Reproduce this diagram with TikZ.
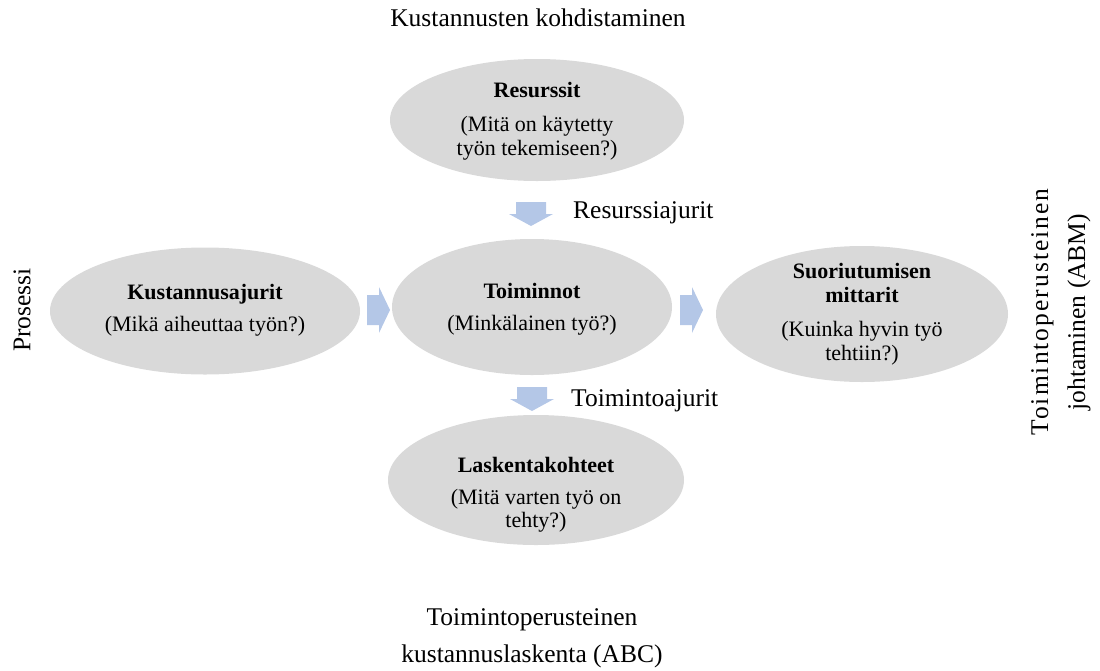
\documentclass[tikz,border=0pt]{standalone}
\usepackage{fontspec}
\setmainfont{Liberation Serif}
\usetikzlibrary{shapes.geometric}
\definecolor{ellgray}{HTML}{D9D9D9}
\definecolor{arrowblue}{HTML}{B4C7E7}
\tikzset{
  ell/.style={ellipse, fill=ellgray, draw=none, inner sep=0pt},
  inner/.style={align=center, font=\fontsize{22}{23.5}\selectfont, inner sep=0pt},
  outer/.style={align=center, font=\fontsize{25.5}{37}\selectfont, inner sep=0pt},
  dnarrow/.pic={\fill[arrowblue] (-15,-12) -- (15,-12) -- (15,0) -- (22,0) -- (0,12) -- (-22,0) -- (-15,0) -- cycle;},
  rtarrow/.pic={\fill[arrowblue] (-12,-15) -- (0,-15) -- (0,-23) -- (11,0) -- (0,23) -- (0,15) -- (-12,15) -- cycle;}
}
\begin{document}
\begin{tikzpicture}[x=1pt,y=-1pt]
\useasboundingbox (0,0) rectangle (1100,670);
% ellipses
\node[ell, minimum width=294, minimum height=122] (res) at (537,120) {};
\node[ell, minimum width=310, minimum height=127] (kus) at (205,311) {};
\node[ell, minimum width=280, minimum height=136] (toi) at (532,307) {};
\node[ell, minimum width=292, minimum height=136] (suo) at (862,314) {};
\node[ell, minimum width=296, minimum height=130] (las) at (536,480) {};
% ellipse texts
\node[inner] (rest) at (537,121) {\textbf{Resurssit}\\[11pt](Mitä on käytetty\\työn tekemiseen?)};
\node[inner] (kust) at (205,310) {\textbf{Kustannusajurit}\\[9pt](Mikä aiheuttaa työn?)};
\node[inner] (toit) at (532,309) {\textbf{Toiminnot}\\[9pt](Minkälainen työ?)};
\node[inner] (suot) at (862,314) {\textbf{Suoriutumisen}\\\textbf{mittarit}\\[11pt](Kuinka hyvin työ\\tehtiin?)};
\node[inner] (last) at (536,495) {\textbf{Laskentakohteet}\\[8pt](Mitä varten työ on\\tehty?)};
% arrows
\coordinate (a1) at (531,214);
\coordinate (a2) at (532,399);
\coordinate (a3) at (379,310);
\coordinate (a4) at (692,310);
\pic at (a1) {dnarrow};
\pic at (a2) {dnarrow};
\pic at (a3) {rtarrow};
\pic at (a4) {rtarrow};
% outer labels
\node[outer] (title) at (538,18) {Kustannusten kohdistaminen};
\node[outer, anchor=west] (resaj) at (573,213) {Resurssiajurit};
\node[outer, anchor=west] (toiaj) at (571,401) {Toimintoajurit};
\node[outer, rotate=90] (pros) at (22,310) {Prosessi};
\node[outer, rotate=90] (abm) at (1061,312) {\addfontfeature{LetterSpace=8}Toimintoperusteinen\\johtaminen (ABM)};
\node[outer] (abc) at (532,638) {Toimintoperusteinen\\kustannuslaskenta (ABC)};
\end{tikzpicture}
\end{document}
